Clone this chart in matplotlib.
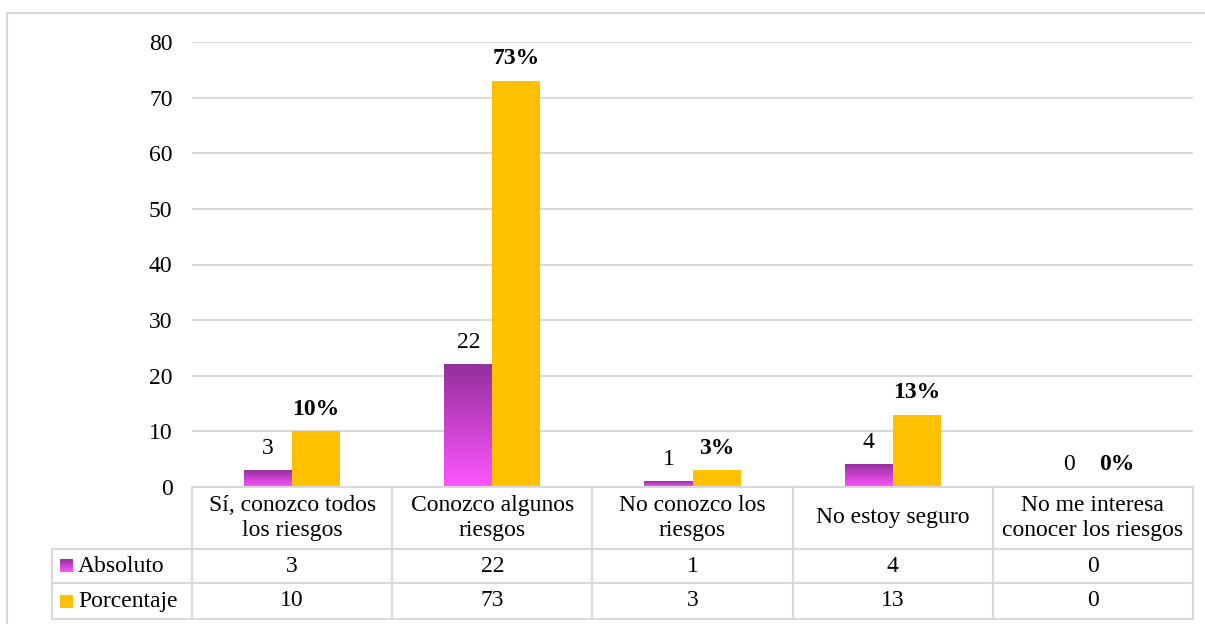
import numpy as np
import matplotlib.pyplot as plt
from matplotlib.colors import LinearSegmentedColormap
from matplotlib.lines import Line2D

plt.rcParams["font.family"] = ["Liberation Serif", "DejaVu Serif"]

# data
categories = [
    "Sí, conozco todos\nlos riesgos",
    "Conozco algunos\nriesgos",
    "No conozco los\nriesgos",
    "No estoy seguro",
    "No me interesa\nconocer los riesgos",
]
absoluto = [3, 22, 1, 4, 0]
porcentaje = [10, 73, 3, 13, 0]
series_names = ["Absoluto", "Porcentaje"]
y_ticks = [0, 10, 20, 30, 40, 50, 60, 70, 80]

GOLD = "#FFC000"
GRID = "#D9D9D9"
FS = 17
purple_cmap = LinearSegmentedColormap.from_list("purple_grad", ["#FF55FF", "#93309C"])
gradient = np.linspace(0, 1, 256).reshape(-1, 1)

W, H = 1205, 624
fig = plt.figure(figsize=(W / 100, H / 100), dpi=100)


def px_axes(x0, y0, x1, y1):
    """Axes placed by pixel box (top-left origin)."""
    return fig.add_axes([x0 / W, 1 - y1 / H, (x1 - x0) / W, (y1 - y0) / H])


# chart frame
fig.add_artist(Line2D([6.5 / W, 1], [1 - 12.5 / H] * 2, color=GRID, lw=1.5))
fig.add_artist(Line2D([6.5 / W] * 2, [0, 1 - 12.5 / H], color=GRID, lw=1.5))

# bars
ax = px_axes(192, 42, 1193, 487)
n = len(categories)
x = np.arange(n) + 0.5
bw = 0.24
ax.set_xlim(0, n)
ax.set_ylim(0, 80)
ax.set_yticks(y_ticks)
ax.set_xticks([])
ax.grid(axis="y", color=GRID, lw=1.5)
ax.set_axisbelow(True)
for s in ax.spines.values():
    s.set_visible(False)
ax.tick_params(axis="y", length=0, pad=14, labelsize=FS)

for xi, a, p in zip(x, absoluto, porcentaje):
    if a > 0:
        ax.imshow(gradient, cmap=purple_cmap, origin="lower", aspect="auto",
                  extent=(xi - bw, xi, 0, a), zorder=2)
    ax.bar(xi + bw / 2, p, width=bw, color=GOLD, zorder=2)
    ax.text(xi - bw / 2, a + 4, str(a), ha="center", va="center", fontsize=FS)
    ax.text(xi + bw / 2, p + 4, f"{p}%", ha="center", va="center",
            fontsize=FS, fontweight="bold")
ax.set_xlim(0, n)
ax.set_ylim(0, 80)

# data table under the chart
tab = px_axes(52, 487, 1193, 620)
left = -140 / 200.2
tab.set_xlim(left, n)
tab.set_ylim(133, 0)
tab.axis("off")
row_y = [0, 62, 96, 132]
lkw = dict(color=GRID, lw=1.5, clip_on=False)
for xb in range(n + 1):
    tab.plot([xb, xb], [0, 132], **lkw)
tab.plot([left, left], [62, 132], **lkw)
tab.plot([0, n], [0, 0], **lkw)
for yb in row_y[1:]:
    tab.plot([left, n], [yb, yb], **lkw)

for xi, label in zip(x, categories):
    tab.text(xi, 31, label, ha="center", va="center", fontsize=FS, linespacing=1.25)

for r, (name, vals) in enumerate(zip(series_names, [absoluto, porcentaje])):
    yc = (row_y[r + 1] + row_y[r + 2]) / 2
    kx0 = left + 8 / 200.2
    kx1 = kx0 + 13 / 200.2
    if r == 0:
        tab.imshow(gradient[::-1], cmap=purple_cmap, aspect="auto",
                   extent=(kx0, kx1, yc + 6.5, yc - 6.5))
    else:
        tab.fill_between([kx0, kx1], yc - 6.5, yc + 6.5, color=GOLD, lw=0)
    tab.text(kx1 + 5 / 200.2, yc, name, ha="left", va="center", fontsize=FS)
    for xi, v in zip(x, vals):
        tab.text(xi, yc, str(v), ha="center", va="center", fontsize=FS)
tab.set_xlim(left, n)
tab.set_ylim(133, 0)

fig.savefig("out.png", dpi=100)
